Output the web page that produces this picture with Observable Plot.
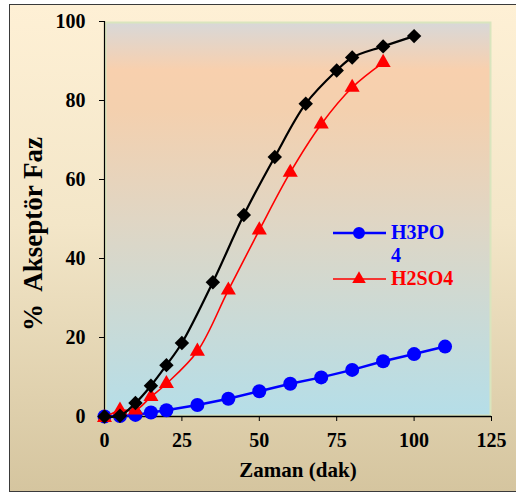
<!DOCTYPE html>
<html>
<head>
<meta charset="utf-8">
<script src="https://cdn.jsdelivr.net/npm/d3@7"></script>
<script src="https://cdn.jsdelivr.net/npm/@observablehq/plot@0.6"></script>
<style>
  html, body { margin: 0; padding: 0; width: 516px; height: 493px; overflow: hidden; }
  #frame { position: absolute; left: 9px; top: 4px; width: 520px; height: 486px;
    border: 1.5px solid #3a3a3a; background: linear-gradient(#FEF0D5, #F3E6C8 45%, #D5C59F); }
  #chart { position: absolute; left: 0; top: 0; }
  #legend { position: absolute; left: 0; top: 0; }
  text { font-family: "Liberation Serif", "Times New Roman", serif; }
</style>
</head>
<body>
<div id="frame"></div>
<div id="chart"></div>
<script>
// Data
const timeBlack = [0, 5, 10, 15, 20, 25, 35, 45, 55, 65, 75, 80, 90, 100];
const valuesBlack = [0, 0.2, 3.4, 7.8, 13, 18.6, 34, 51, 65.7, 79.2, 87.6, 90.9, 93.7, 96.3];

const timeH2SO4 = [0, 5, 10, 15, 20, 30, 40, 50, 60, 70, 80, 90];
const valuesH2SO4 = [-0.3, 1.6, 1.6, 5, 8.3, 16.5, 32, 47.2, 61.8, 74, 83.3, 89.6];

const timeH3PO4 = [0, 5, 10, 15, 20, 30, 40, 50, 60, 70, 80, 90, 100, 110];
const valuesH3PO4 = [0, 0.1, 0.4, 1, 1.6, 2.9, 4.5, 6.4, 8.3, 9.9, 11.8, 14, 15.8, 17.7];

const xTicks = [0, 25, 50, 75, 100, 125];
const yTicks = [0, 20, 40, 60, 80, 100];

const seriesNames = ["H3PO4", "H2SO4"];

const black = timeBlack.map((t, i) => ({t, v: valuesBlack[i]}));
const h2so4 = timeH2SO4.map((t, i) => ({t, v: valuesH2SO4[i]}));
const h3po4 = timeH3PO4.map((t, i) => ({t, v: valuesH3PO4[i]}));

const font = '"Liberation Serif", "Times New Roman", serif';

const plot = Plot.plot({
  width: 516,
  height: 493,
  marginLeft: 104,
  marginRight: 25,
  marginTop: 21,
  marginBottom: 77,
  style: {background: "transparent", fontFamily: font, fontWeight: "bold", fontSize: "20px", color: "black", overflow: "visible"},
  x: {domain: [0, 125], ticks: xTicks},
  y: {domain: [0, 100], ticks: yTicks},
  marks: [
    Plot.frame({fill: "url(#plotbg)", stroke: "#D9E5BE", strokeWidth: 2, inset: 1}),
    Plot.axisX({ticks: xTicks, tickSize: 5, tickPadding: 11, fontSize: 20, fontWeight: "bold", fontFamily: font, stroke: "#000", label: null}),
    Plot.axisY({ticks: yTicks, tickSize: 5, tickPadding: 14, fontSize: 20, fontWeight: "bold", fontFamily: font, stroke: "#000", label: null}),
    Plot.ruleX([0], {stroke: "#000", strokeWidth: 1.2}),
    Plot.ruleY([0], {stroke: "#000", strokeWidth: 1.5}),
    Plot.line(h3po4, {x: "t", y: "v", stroke: "#0000FF", strokeWidth: 2.5}),
    Plot.dot(h3po4, {x: "t", y: "v", r: 7, fill: "#0000FF", stroke: "none"}),
    Plot.line(h2so4, {x: "t", y: "v", stroke: "#FF0000", strokeWidth: 1.6, curve: "catmull-rom"}),
    Plot.dot(h2so4, {x: "t", y: "v", r: 5.6, symbol: "triangle", fill: "#FF0000", stroke: "none"}),
    Plot.line(black, {x: "t", y: "v", stroke: "#000", strokeWidth: 2.2, curve: "catmull-rom"}),
    Plot.dot(black, {x: "t", y: "v", r: 6.5, symbol: "diamond2", fill: "#000", stroke: "none"}),
    Plot.text(["Zaman (dak)"], {frameAnchor: "bottom", dy: 60, fontSize: 21, fontWeight: "bold", fontFamily: font, fill: "#000"}),
    Plot.text(["%  Akseptör Faz"], {frameAnchor: "left", textAnchor: "middle", dx: -71, dy: 15, rotate: -90, fontSize: 27, fontWeight: "bold", fontFamily: font, fill: "#000"})
  ]
});

// gradient for the plot area
const ns = "http://www.w3.org/2000/svg";
const defs = document.createElementNS(ns, "defs");
defs.innerHTML = `<linearGradient id="plotbg" x1="0" y1="0" x2="0" y2="1">
  <stop offset="0" stop-color="#D8D8D8"/>
  <stop offset="0.12" stop-color="#F8D0AE"/>
  <stop offset="0.22" stop-color="#F4D0AE"/>
  <stop offset="0.5" stop-color="#E0D6C4"/>
  <stop offset="1" stop-color="#B5DEE8"/>
</linearGradient>`;
plot.insertBefore(defs, plot.firstChild);
document.getElementById("chart").appendChild(plot);

// Legend drawn as an overlay SVG
const legendSvg = d3.select("body").append("svg")
  .attr("id", "legend").attr("width", 516).attr("height", 493)
  .style("position", "absolute").style("left", "0px").style("top", "0px");

const legendItems = [
  {name: seriesNames[0], color: "#0000FF", sym: d3.symbolCircle, size: 113, lines: ["H3PO", "4"], y: 233, w: 2.5},
  {name: seriesNames[1], color: "#FF0000", sym: d3.symbolTriangle, size: 80, lines: ["H2SO4"], y: 279, w: 1.6}
];
legendItems.forEach(it => {
  const g = legendSvg.append("g");
  g.append("line").attr("x1", 333).attr("x2", 386).attr("y1", it.y).attr("y2", it.y)
    .attr("stroke", it.color).attr("stroke-width", it.w);
  g.append("path").attr("d", d3.symbol(it.sym, it.size)()).attr("transform", `translate(359,${it.y})`)
    .attr("fill", it.color);
  it.lines.forEach((ln, j) => {
    g.append("text").attr("x", 391).attr("y", it.y + 6 + j * 23).text(ln)
      .attr("fill", it.color).attr("font-size", 20).attr("font-weight", "bold")
      .attr("font-family", font);
  });
});
</script>
</body>
</html>
